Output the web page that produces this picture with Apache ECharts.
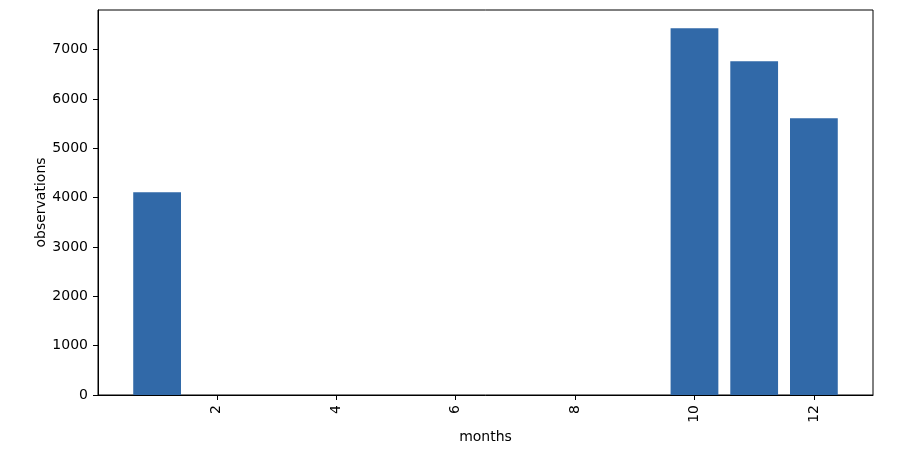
<!DOCTYPE html>
<html><head><meta charset="utf-8">
<script src="https://cdn.jsdelivr.net/npm/echarts@6/dist/echarts.min.js"></script>
<style>html,body{margin:0;padding:0;background:#fff}#c{width:901px;height:456px}</style>
</head><body><div id="c"></div>
<script>
const months = [1, 10, 11, 12];
const observations = [4109, 7429, 6761, 5607];
const xTicks = [2, 4, 6, 8, 10, 12];
const yTicks = [0, 1000, 2000, 3000, 4000, 5000, 6000, 7000];

const chart = echarts.init(document.getElementById('c'), null, {renderer: 'canvas'});
const font = 'DejaVu Sans';
const xMin = 0.01, xMax = 12.99;
const yMax = 7429 * 1.05;
const plotW = 901 - 98 - 28;
chart.setOption({
  animation: false,
  textStyle: {fontFamily: font},
  grid: {left: 98, right: 28, top: 10, bottom: 61, show: true, borderColor: '#000', borderWidth: 1, backgroundColor: 'transparent'},
  xAxis: {
    type: 'value', min: xMin, max: xMax,
    name: 'months', nameLocation: 'middle', nameGap: 34,
    nameTextStyle: {fontFamily: font, fontSize: 14, color: '#000'},
    axisLine: {show: true, onZero: false, lineStyle: {color: '#000', width: 1}},
    axisTick: {show: true, length: 5, customValues: xTicks, lineStyle: {color: '#000'}},
    axisLabel: {customValues: xTicks, rotate: 90, margin: 10, fontFamily: font, fontSize: 14, color: '#000', formatter: v => String(v)},
    splitLine: {show: false}
  },
  yAxis: {
    type: 'value', min: 0, max: yMax,
    name: 'observations', nameLocation: 'middle', nameGap: 50, nameMoveOverlap: false,
    nameTextStyle: {fontFamily: font, fontSize: 14, color: '#000'},
    axisLine: {show: true, lineStyle: {color: '#000', width: 1}},
    axisTick: {show: true, length: 5, customValues: yTicks, lineStyle: {color: '#000'}},
    axisLabel: {customValues: yTicks, margin: 10, fontFamily: font, fontSize: 14, color: '#000', formatter: v => String(v)},
    splitLine: {show: false}
  },
  series: [{
    type: 'bar',
    data: months.map((m, i) => [m, observations[i]]),
    barWidth: 0.8 * plotW / (xMax - xMin),
    itemStyle: {color: '#3169a8'}
  }]
});
</script></body></html>
